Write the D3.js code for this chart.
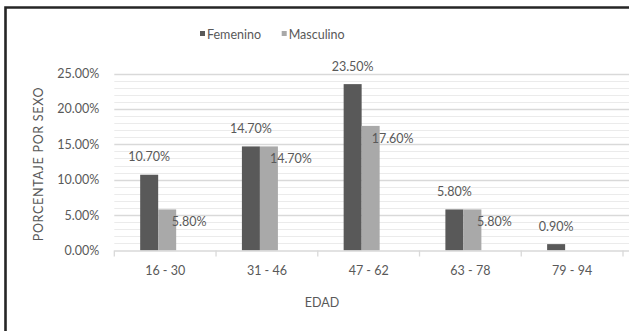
<!DOCTYPE html>
<html>
<head>
<meta charset="utf-8">
<script src="https://cdn.jsdelivr.net/npm/d3@7"></script>
<style>
  html, body { margin: 0; padding: 0; background: #fff; }
  svg { display: block; }
  text { font-family: Lato, "Open Sans", sans-serif; fill: #595959; }
</style>
</head>
<body>
<svg id="chart" width="629" height="331"></svg>
<script>
// Age groups and share of each sex (percent)
const categories = ["16 - 30", "31 - 46", "47 - 62", "63 - 78", "79 - 94"];
const femenino = [10.7, 14.7, 23.5, 5.8, 0.9];
const masculino = [5.8, 14.7, 17.6, 5.8, 0.0];
const yTicks = [0, 5, 10, 15, 20, 25];
const seriesNames = ["Femenino", "Masculino"];
const colors = ["#595959", "#a9a9a9"];

const svg = d3.select("#chart");
const W = 629, H = 331;

const plot = { left: 114.3, right: 623, top: 73.5, bottom: 250.5 };

const x = d3.scaleBand().domain(categories).range([plot.left, plot.right]);
const y = d3.scaleLinear().domain([0, 25]).range([plot.bottom, plot.top]);

// Frame
svg.append("path")
  .attr("d", `M5.5,${H} L5.5,7.5 L${W},7.5`)
  .attr("fill", "none").attr("stroke", "#262626").attr("stroke-width", 2.6);

// Minor gridlines every 1%
const minor = d3.range(1, 25).filter(v => v % 5 !== 0);
svg.append("g").selectAll("line").data(minor).join("line")
  .attr("x1", plot.left).attr("x2", W)
  .attr("y1", d => Math.round(y(d)) + 0.5).attr("y2", d => Math.round(y(d)) + 0.5)
  .attr("stroke", "#ebebeb").attr("stroke-width", 1);

// Major gridlines + y labels
const yAxis = d3.axisLeft(y).tickValues(yTicks)
  .tickFormat(d => d.toFixed(2) + "%").tickSize(0).tickPadding(15);
const gy = svg.append("g").attr("transform", `translate(${plot.left},0)`).call(yAxis);
gy.select(".domain").remove();
gy.selectAll("text").attr("font-size", 12.5).attr("fill", "#595959")
  .style("font-family", "Lato, sans-serif");
svg.append("g").selectAll("line").data(yTicks.filter(v => v > 0)).join("line")
  .attr("x1", plot.left).attr("x2", W)
  .attr("y1", d => Math.round(y(d)) + 0.5).attr("y2", d => Math.round(y(d)) + 0.5)
  .attr("stroke", "#d9d9d9").attr("stroke-width", 1.3);

// Bars
const barW = 18;
const groupShift = -7;
const series = [femenino, masculino];
series.forEach((vals, si) => {
  svg.append("g").selectAll("rect").data(categories).join("rect")
    .attr("x", (c) => x(c) + x.bandwidth() / 2 + groupShift - barW + si * barW)
    .attr("y", (c, i) => y(vals[i]))
    .attr("width", barW)
    .attr("height", (c, i) => y(0) - y(vals[i]))
    .attr("fill", colors[si]);
});

// Category axis
const xAxis = d3.axisBottom(x).tickSize(0).tickPadding(16);
const gx = svg.append("g").attr("transform", `translate(0,${plot.bottom})`).call(xAxis);
gx.select(".domain").remove();
gx.selectAll("text").attr("font-size", 12.5).attr("fill", "#595959")
  .style("font-family", "Lato, sans-serif");
svg.append("line")
  .attr("x1", plot.left).attr("x2", W)
  .attr("y1", plot.bottom + 0.5).attr("y2", plot.bottom + 0.5)
  .attr("stroke", "#d9d9d9").attr("stroke-width", 1.3);
const edges = categories.map(c => x(c)).concat([x.range()[1]]);
svg.append("g").selectAll("line").data(edges).join("line")
  .attr("x1", d => d).attr("x2", d => d)
  .attr("y1", plot.bottom).attr("y2", plot.bottom + 6)
  .attr("stroke", "#d9d9d9").attr("stroke-width", 1.3);

// Value labels
svg.append("g").selectAll("text").data(categories).join("text")
  .attr("x", c => x(c) + x.bandwidth() / 2 + groupShift - barW / 2)
  .attr("y", (c, i) => y(femenino[i]) - 18)
  .attr("text-anchor", "middle").attr("dominant-baseline", "central")
  .attr("font-size", 12.5)
  .text((c, i) => femenino[i].toFixed(2) + "%");
svg.append("g").selectAll("text").data(categories.filter((c, i) => masculino[i] > 0)).join("text")
  .attr("x", c => x(c) + x.bandwidth() / 2 + groupShift + barW / 2 + 22)
  .attr("y", c => y(masculino[categories.indexOf(c)]) + 12.5)
  .attr("text-anchor", "middle").attr("dominant-baseline", "central")
  .attr("font-size", 12.5)
  .text(c => masculino[categories.indexOf(c)].toFixed(2) + "%");

// Axis titles
svg.append("text")
  .attr("transform", `translate(38,${(plot.top + plot.bottom) / 2 + 2}) rotate(-90)`)
  .attr("text-anchor", "middle").attr("dominant-baseline", "central")
  .attr("font-size", 12.5).attr("letter-spacing", 0.7)
  .text("PORCENTAJE POR SEXO");
svg.append("text")
  .attr("x", 322).attr("y", 302)
  .attr("text-anchor", "middle").attr("dominant-baseline", "central")
  .attr("font-size", 12.5)
  .text("EDAD");

// Legend
const legendX = [200, 281.7];
const lg = svg.append("g");
seriesNames.forEach((name, i) => {
  lg.append("rect").attr("x", legendX[i]).attr("y", 31).attr("width", 5).attr("height", 5)
    .attr("fill", colors[i]);
  lg.append("text").attr("x", legendX[i] + 7).attr("y", 34)
    .attr("dominant-baseline", "central").attr("font-size", 12.5)
    .text(name);
});
</script>
</body>
</html>
